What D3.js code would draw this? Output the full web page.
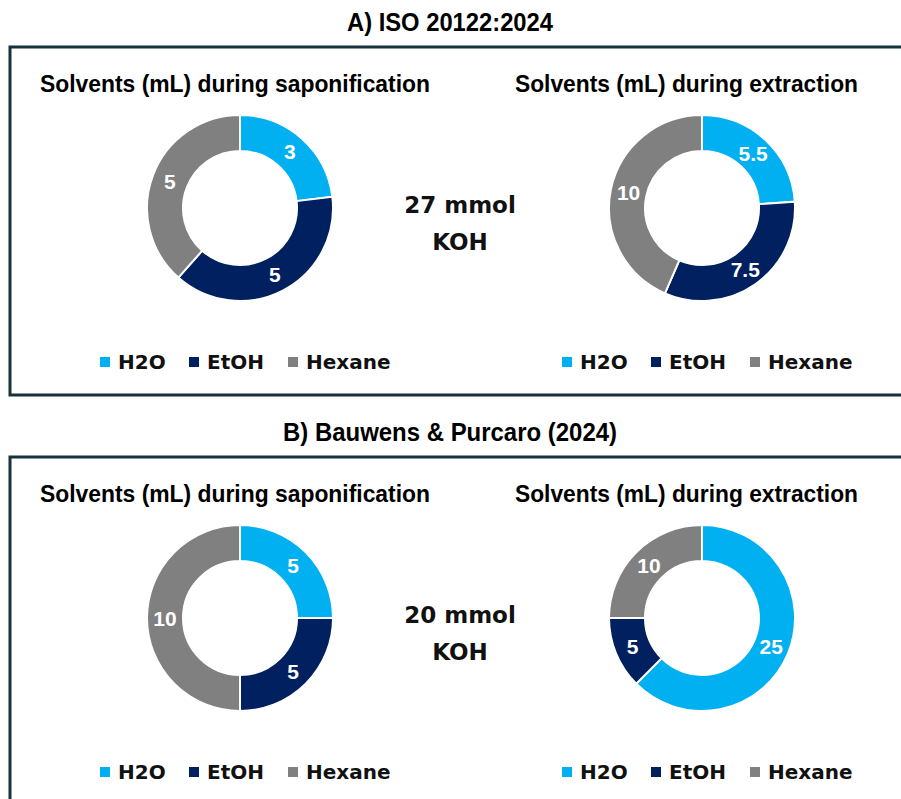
<!DOCTYPE html>
<html>
<head>
<meta charset="utf-8">
<script src="https://cdn.jsdelivr.net/npm/d3@7"></script>
<style>
  html, body { margin: 0; padding: 0; background: #fff; }
  svg { display: block; }
</style>
</head>
<body>
<svg id="chart" width="901" height="799"></svg>
<script>
// ---- data ----
const solvents = ["H2O", "EtOH", "Hexane"];
const solventColors = ["#00B0F0", "#002060", "#808080"];
const panelTitles = ["A) ISO 20122:2024", "B) Bauwens & Purcaro (2024)"];
const chartTitles = ["Solvents (mL) during saponification", "Solvents (mL) during extraction"];
const isoSaponification = [3, 5, 5];
const isoExtraction = [5.5, 7.5, 10];
const bpSaponification = [5, 5, 10];
const bpExtraction = [25, 5, 10];
const kohAmounts = ["27 mmol", "20 mmol"];
const kohUnit = "KOH";

const panels = [
  { title: panelTitles[0], titleW: 206, top: 0, koh: kohAmounts[0], charts: [isoSaponification, isoExtraction] },
  { title: panelTitles[1], titleW: 334, top: 410, koh: kohAmounts[1], charts: [bpSaponification, bpExtraction] }
];

const svg = d3.select("#chart");
const color = d3.scaleOrdinal().domain(solvents).range(solventColors);
const pie = d3.pie().sort(null).value(d => d.value);
const arc = d3.arc().innerRadius(57).outerRadius(93);

const titleFont = "'Liberation Sans Narrow', 'Arial Narrow', sans-serif";
const bodyFont = "'DejaVu Sans', Verdana, sans-serif";
const labelFont = "'Liberation Sans', Arial, sans-serif";

const chartCx = [240, 702];
const chartTitleX = [40, 515];
const chartTitleW = [390, 343];
const legendX = [100, 562];
const legendOffsets = [0, 89, 188];

panels.forEach(p => {
  const g = svg.append("g").attr("transform", `translate(0,${p.top})`);
  // frame
  g.append("rect")
    .attr("x", 10).attr("y", 47)
    .attr("width", 910).attr("height", 348)
    .attr("fill", "none")
    .attr("stroke", "#17323c")
    .attr("stroke-width", 3);
  // panel title
  g.append("text")
    .attr("x", 450 - p.titleW / 2).attr("y", 31)
    .attr("font-family", titleFont)
    .attr("font-weight", "bold")
    .attr("font-size", 26)
    .attr("textLength", p.titleW)
    .attr("lengthAdjust", "spacingAndGlyphs")
    .attr("fill", "#000")
    .text(p.title);

  p.charts.forEach((vals, i) => {
    const data = solvents.map((s, k) => ({ name: s, value: vals[k] }));
    const cx = chartCx[i], cy = 208;
    g.append("text")
      .attr("x", chartTitleX[i]).attr("y", 92)
      .attr("font-family", titleFont)
      .attr("font-weight", "bold")
      .attr("font-size", 24)
      .attr("textLength", chartTitleW[i])
      .attr("lengthAdjust", "spacingAndGlyphs")
      .text(chartTitles[i]);

    const dg = g.append("g").attr("transform", `translate(${cx},${cy})`);
    const arcs = pie(data);
    dg.selectAll("path").data(arcs).join("path")
      .attr("d", arc)
      .attr("fill", d => color(d.data.name))
      .attr("stroke", "#fff")
      .attr("stroke-width", 2);
    dg.selectAll("text").data(arcs).join("text")
      .attr("transform", d => `translate(${arc.centroid(d)})`)
      .attr("text-anchor", "middle")
      .attr("dy", "0.36em")
      .attr("font-family", labelFont)
      .attr("font-weight", "bold")
      .attr("font-size", 21)
      .attr("fill", "#fff")
      .text(d => d.data.value);

    // legend
    const lg = g.append("g").attr("transform", `translate(${legendX[i]},362)`);
    solvents.forEach((s, k) => {
      const it = lg.append("g").attr("transform", `translate(${legendOffsets[k]},0)`);
      it.append("rect").attr("x", 0).attr("y", -5).attr("width", 10).attr("height", 10)
        .attr("fill", color(s));
      it.append("text").attr("x", 18).attr("y", 0).attr("dy", "0.37em")
        .attr("font-family", bodyFont).attr("font-weight", "bold")
        .attr("font-size", 20).attr("fill", "#111")
        .text(s);
    });
  });

  // center KOH text
  const ct = g.append("text")
    .attr("x", 460).attr("text-anchor", "middle")
    .attr("font-family", bodyFont).attr("font-weight", "bold")
    .attr("font-size", 23).attr("fill", "#111");
  ct.append("tspan").attr("x", 460).attr("y", 213).text(p.koh);
  ct.append("tspan").attr("x", 460).attr("y", 250).text(kohUnit);
});
</script>
</body>
</html>
